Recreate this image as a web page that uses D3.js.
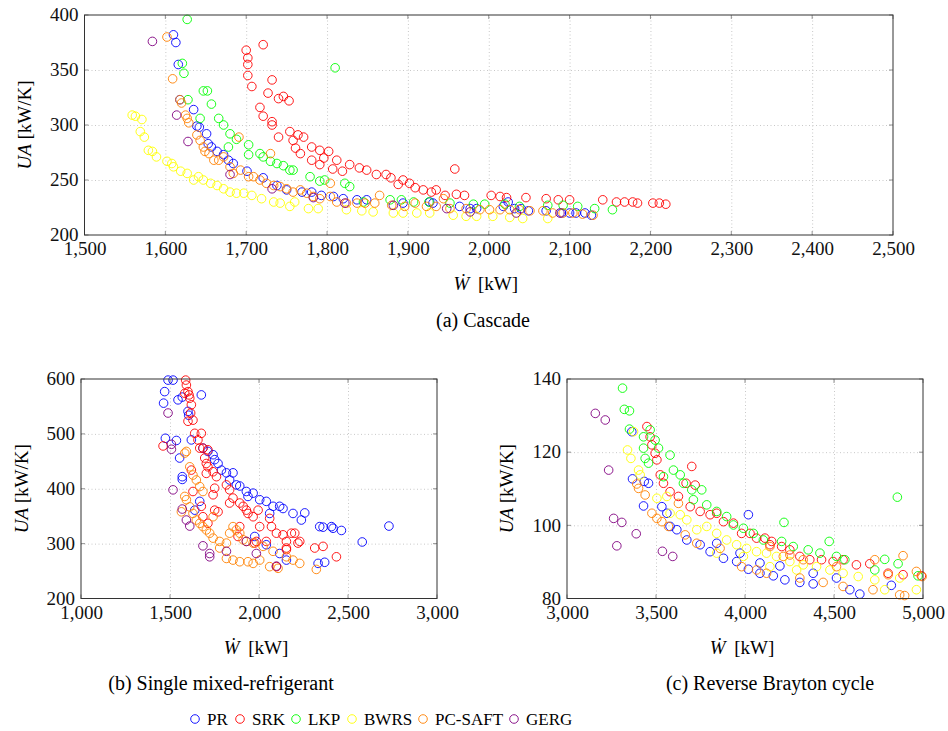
<!DOCTYPE html>
<html>
<head>
<meta charset="utf-8">
<script src="https://cdn.jsdelivr.net/npm/d3@7"></script>
<style>
  body { margin: 0; background: #fff; }
  svg text { font-family: "Liberation Serif", "DejaVu Serif", serif; }
  .tick text { font-size: 19px; fill: #111; }
  .grid line { stroke: #c8c8c8; stroke-dasharray: 1,2.5; }
  .grid .domain { display: none; }
</style>
</head>
<body>
<svg id="chart" width="948" height="731"></svg>
<script>
// Heat exchanger UA vs compressor power for three liquefaction processes
const SERIES = ["PR", "SRK", "LKP", "BWRS", "PC-SAFT", "GERG"];
const COLORS = d3.scaleOrdinal().domain(SERIES)
  .range(["#0000ff", "#ff0000", "#00ff00", "#ffff00", "#ff8000", "#800080"]);

// (a) Cascade : [W kW, UA kW/K]
const cascadePR = [[1610,382],[1613,375],[1616,355],[1618,323],[1635,314],[1639,299],[1642,298],[1651,292],[1653,283],[1657,280],[1664,276],[1672,273],[1678,268],[1684,265],[1701,258],[1721,252],[1738,245],[1750,241],[1769,239],[1781,239],[1793,236],[1808,235],[1820,233],[1837,232],[1849,232],[1894,229],[1927,230],[1931,229],[1964,226],[1977,224],[1985,224],[2018,226],[2024,230],[2032,224],[2040,224],[2049,222],[2071,222],[2090,220],[2100,220],[2108,220],[2119,220],[2127,218]];
const cascadeSRK = [[1700,368],[1702,361],[1702,355],[1702,345],[1707,335],[1721,373],[1732,341],[1727,329],[1717,316],[1721,308],[1732,303],[1732,300],[1740,324],[1746,326],[1753,322],[1740,289],[1754,294],[1758,286],[1764,291],[1771,289],[1761,279],[1767,274],[1781,280],[1791,277],[1796,270],[1802,276],[1812,268],[1781,268],[1791,264],[1807,260],[1819,258],[1828,264],[1840,261],[1849,259],[1861,255],[1873,255],[1879,252],[1888,246],[1894,250],[1902,247],[1909,243],[1919,241],[1929,239],[1935,241],[1946,236],[1958,260],[1960,237],[1970,236],[2003,236],[2014,235],[2022,234],[2046,234],[2071,233],[2086,232],[2100,232],[2141,232],[2158,230],[2168,230],[2178,230],[2184,229],[2203,229],[2211,229],[2219,228]];
const cascadeLKP = [[1627,396],[1621,356],[1623,347],[1628,323],[1647,331],[1652,331],[1657,319],[1643,306],[1666,306],[1672,300],[1680,292],[1678,280],[1688,287],[1703,282],[1703,273],[1717,274],[1721,271],[1730,267],[1738,265],[1746,263],[1754,259],[1758,259],[1779,253],[1791,249],[1797,250],[1822,247],[1828,244],[1810,352],[1845,230],[1878,232],[1892,232],[1907,230],[1926,230],[1952,229],[1981,228],[1995,228],[2020,228],[2038,226],[2073,227],[2092,227],[2110,226],[2131,224],[2153,223]];
const cascadeBWRS = [[1559,309],[1563,308],[1571,305],[1569,294],[1574,289],[1579,277],[1584,276],[1589,271],[1602,267],[1608,265],[1610,262],[1619,258],[1627,256],[1635,250],[1641,253],[1647,250],[1656,247],[1664,245],[1672,242],[1680,239],[1688,238],[1697,238],[1707,236],[1719,233],[1734,230],[1742,229],[1754,226],[1760,230],[1777,224],[1789,224],[1824,223],[1843,222],[1857,221],[1882,220],[1894,220],[1911,220],[1927,220],[1956,218],[1972,217],[1985,217],[2005,217],[2026,216],[2042,215],[2073,215]];
const cascadePCSAFT = [[1602,380],[1609,342],[1618,323],[1620,320],[1625,309],[1627,306],[1629,302],[1639,291],[1643,286],[1647,280],[1649,276],[1654,274],[1660,268],[1666,268],[1672,271],[1680,262],[1684,256],[1691,289],[1693,259],[1703,253],[1709,253],[1717,250],[1725,247],[1730,274],[1734,245],[1742,244],[1750,242],[1758,239],[1767,241],[1775,238],[1783,235],[1791,233],[1804,247],[1804,235],[1812,230],[1824,229],[1837,229],[1847,229],[1859,229],[1865,236],[1880,227],[1896,226],[1909,229],[1923,226],[1935,226],[1944,233],[1952,224],[1972,224],[1989,223],[2001,223],[2014,223],[2026,223],[2038,223],[2051,222],[2067,222],[2079,220],[2092,220],[2104,220],[2116,219],[2129,218]];
const cascadeGERG = [[1584,376],[1614,309],[1628,285],[1680,255],[1732,242],[1783,234],[1822,229],[1882,227],[1948,224],[1977,221],[2034,220],[2088,220]];

// (b) Single mixed-refrigerant
const smrPR = [[1489,598],[1470,577],[1464,556],[1474,492],[1517,598],[1536,488],[1545,562],[1569,567],[1554,456],[1569,422],[1569,417],[1601,541],[1605,534],[1676,571],[1667,377],[1639,361],[1620,489],[1685,474],[1713,468],[1742,462],[1751,453],[1770,446],[1789,434],[1817,429],[1854,429],[1835,416],[1873,407],[1892,405],[1929,395],[1967,392],[2004,380],[2041,377],[2079,368],[2116,368],[2135,364],[2191,355],[2257,356],[2238,343],[2341,331],[2360,330],[2407,331],[2416,328],[2463,324],[1976,313],[2041,298],[2116,282],[2154,270],[2332,264],[2369,266],[1938,386],[2060,355],[2580,303],[2730,332]];
const smrSRK = [[1588,598],[1592,589],[1583,574],[1601,577],[1607,571],[1611,565],[1620,553],[1616,538],[1601,523],[1629,525],[1639,501],[1676,501],[1657,489],[1685,474],[1667,474],[1713,471],[1695,456],[1704,446],[1713,440],[1704,428],[1742,431],[1761,422],[1751,401],[1742,389],[1751,361],[1770,358],[1817,407],[1835,398],[1835,374],[1854,383],[1892,374],[1911,368],[1929,361],[1938,355],[1967,349],[1995,361],[2004,331],[2060,346],[2070,331],[2098,319],[2135,316],[2154,304],[2182,319],[2201,319],[2219,301],[2229,304],[2154,292],[2154,289],[2041,304],[1892,331],[1976,301],[2313,292],[2360,295],[2435,276],[2098,258],[1461,478],[1620,434],[1629,395],[1676,368],[1685,349],[1713,337],[1882,313],[1985,304]];
const smrPCSAFT = [[1583,465],[1592,468],[1611,440],[1629,425],[1648,416],[1667,404],[1685,395],[1583,386],[1592,380],[1611,367],[1629,355],[1648,343],[1667,337],[1685,331],[1704,325],[1723,319],[1742,310],[1779,304],[1817,301],[1854,331],[1873,325],[1892,319],[1911,307],[1929,304],[1967,301],[2023,295],[2079,286],[2154,276],[2191,270],[2229,264],[1779,292],[1817,273],[1854,270],[1892,267],[1938,267],[1967,264],[2004,270],[2060,258],[2107,255],[2322,253],[1742,349],[1835,319],[1564,358]];
const smrGERG = [[1489,538],[1508,472],[1517,398],[1569,363],[1592,343],[1611,332],[1685,296],[1723,282],[1723,276],[1817,286],[1929,304],[1985,282],[2098,259],[1508,481]];

// (c) Reverse Brayton cycle
const rbPR = [[3364,125.6],[3368,112.7],[3434,112.0],[3430,105.3],[3458,111.5],[3533,105.1],[3561,103.3],[3579,99.7],[3617,98.8],[3673,96.0],[3748,94.7],[3804,92.8],[3879,91.0],[3953,90.1],[4019,88.0],[4084,86.9],[4019,102.9],[4159,86.2],[4224,85.1],[4308,84.4],[4383,84.0],[4514,85.6],[4589,82.4],[4645,81.2],[4822,83.6],[4196,88.9],[4383,86.9],[3841,95.1],[3972,92.4],[4084,89.7]];
const rbSRK = [[3449,127.0],[3467,124.2],[3477,122.0],[3495,119.7],[3505,117.9],[3524,113.8],[3542,111.5],[3579,109.2],[3626,107.9],[3669,111.5],[3701,116.1],[3720,111.0],[3692,105.1],[3748,103.8],[3804,102.9],[3841,103.3],[3879,101.0],[3935,100.6],[3981,97.8],[4028,97.8],[4065,96.5],[4112,96.5],[4150,95.6],[4206,94.2],[4252,93.3],[4308,91.5],[4364,90.6],[4430,90.6],[4495,90.1],[4551,90.6],[4626,89.2],[4701,89.5],[4804,86.9],[4888,86.5],[4991,86.2],[4140,94.7]];
const rbLKP = [[3312,137.5],[3322,131.7],[3351,131.3],[3351,126.3],[3430,124.2],[3430,121.1],[3467,126.1],[3495,123.3],[3514,121.1],[3439,118.3],[3458,117.0],[3579,119.2],[3598,115.1],[3542,113.3],[3636,113.8],[3654,111.5],[3701,109.7],[3757,109.7],[3710,107.0],[3785,105.6],[3841,103.8],[3897,102.4],[3935,100.1],[3991,99.2],[4047,97.8],[4103,96.0],[4219,100.8],[4206,95.6],[4271,94.2],[4355,93.3],[4421,92.4],[4473,95.6],[4514,91.5],[4561,90.6],[4729,87.8],[4785,90.7],[4860,89.5],[4856,107.7],[4972,86.2]];
const rbBWRS = [[3374,125.6],[3340,120.6],[3359,118.3],[3402,115.1],[3411,113.8],[3505,107.4],[3561,107.9],[3579,103.3],[3636,102.9],[3673,101.5],[3729,98.8],[3785,99.7],[3841,97.8],[3897,96.0],[3953,94.7],[4009,93.7],[4065,92.8],[4121,92.4],[4177,91.5],[4252,90.1],[4327,89.2],[4402,88.7],[4477,87.8],[4551,86.9],[4636,86.0],[4729,85.1],[4785,82.4],[4869,85.6],[4963,82.4],[3841,92.4],[3991,91.5],[4140,88.7],[4290,87.8]];
const rbPCSAFT = [[3392,111.3],[3402,110.1],[3439,108.3],[3477,103.3],[3505,101.9],[3533,101.0],[3570,99.7],[3626,106.0],[3664,97.4],[3729,95.1],[3860,93.7],[3981,88.7],[4065,87.8],[4121,86.9],[4215,91.5],[4252,91.9],[4308,85.6],[4439,84.4],[4551,83.3],[4719,82.4],[4729,90.6],[4804,86.5],[4888,91.7],[4869,81.0],[4897,80.8],[4963,87.4],[4995,86.0],[4140,94.2],[4327,90.6],[4514,88.7]];
const rbGERG = [[3159,130.6],[3215,128.8],[3234,115.1],[3262,101.9],[3308,100.8],[3280,94.4],[3389,97.7],[3536,92.9],[3594,91.5]];

const cascadeXTicks = [1500, 1600, 1700, 1800, 1900, 2000, 2100, 2200, 2300, 2400, 2500];
const cascadeYTicks = [200, 250, 300, 350, 400];
const smrXTicks = [1000, 1500, 2000, 2500, 3000];
const smrYTicks = [200, 300, 400, 500, 600];
const rbXTicks = [3000, 3500, 4000, 4500, 5000];
const rbYTicks = [80, 100, 120, 140];

const svg = d3.select("#chart");

function panel(box, xTicks, yTicks, seriesData, caption) {
  const x = d3.scaleLinear().domain(d3.extent(xTicks)).range([box.left, box.right]);
  const y = d3.scaleLinear().domain(d3.extent(yTicks)).range([box.bottom, box.top]);
  const g = svg.append("g");
  const h = box.bottom - box.top, w = box.right - box.left;

  // dotted grid
  g.append("g").attr("class", "grid")
    .attr("transform", `translate(0,${box.bottom})`)
    .call(d3.axisBottom(x).tickValues(xTicks.slice(1, -1)).tickSize(-h).tickFormat(""));
  g.append("g").attr("class", "grid")
    .attr("transform", `translate(${box.left},0)`)
    .call(d3.axisLeft(y).tickValues(yTicks.slice(1, -1)).tickSize(-w).tickFormat(""));

  // inward tick marks on all sides
  const tk = g.append("g").attr("stroke", "#777").attr("stroke-width", 0.8);
  xTicks.forEach((v) => {
    tk.append("line").attr("x1", x(v)).attr("x2", x(v)).attr("y1", box.bottom).attr("y2", box.bottom - 4);
    tk.append("line").attr("x1", x(v)).attr("x2", x(v)).attr("y1", box.top).attr("y2", box.top + 4);
  });
  yTicks.forEach((v) => {
    tk.append("line").attr("y1", y(v)).attr("y2", y(v)).attr("x1", box.left).attr("x2", box.left + 4);
    tk.append("line").attr("y1", y(v)).attr("y2", y(v)).attr("x1", box.right).attr("x2", box.right - 4);
  });

  // tick labels
  const gx = g.append("g").attr("transform", `translate(0,${box.bottom})`)
    .call(d3.axisBottom(x).tickValues(xTicks).tickSize(0).tickPadding(7).tickFormat(d3.format(",")));
  gx.select(".domain").remove();
  gx.selectAll("text").attr("dy", "0.71em");
  const gy = g.append("g").attr("transform", `translate(${box.left},0)`)
    .call(d3.axisLeft(y).tickValues(yTicks).tickSize(0).tickPadding(6).tickFormat(d3.format(",")));
  gy.select(".domain").remove();
  gy.selectAll("text").attr("dy", "0.3em");

  // markers
  seriesData.forEach(([key, pts]) => {
    g.append("g").selectAll("circle").data(pts).join("circle")
      .attr("cx", (d) => x(d[0])).attr("cy", (d) => y(d[1])).attr("r", 4.3)
      .attr("fill", "none").attr("stroke", COLORS(key)).attr("stroke-width", 0.9);
  });

  // frame
  g.append("rect").attr("x", box.left).attr("y", box.top).attr("width", w).attr("height", h)
    .attr("fill", "none").attr("stroke", "#333").attr("stroke-width", 1);

  // axis titles
  const xl = g.append("text").attr("x", (box.left + box.right) / 2 - 3).attr("y", box.xLabelY)
    .attr("text-anchor", "middle").attr("font-size", 19);
  xl.append("tspan").attr("font-style", "italic").text("Ẇ");
  xl.append("tspan").text(" [kW]").attr("dx", 4);
  const yl = g.append("text")
    .attr("transform", `translate(${box.yLabelX},${(box.top + box.bottom) / 2}) rotate(-90)`)
    .attr("text-anchor", "middle").attr("font-size", 19);
  yl.append("tspan").attr("font-style", "italic").text("UA");
  yl.append("tspan").text(" [kW/K]");

  svg.append("text").attr("x", caption.x).attr("y", caption.y).attr("text-anchor", "middle")
    .attr("font-size", 20).text(caption.text);
}

panel({ left: 84.5, right: 893, top: 15, bottom: 235, xLabelY: 290, yLabelX: 31 },
  cascadeXTicks, cascadeYTicks,
  [["PR", cascadePR], ["SRK", cascadeSRK], ["LKP", cascadeLKP], ["BWRS", cascadeBWRS], ["PC-SAFT", cascadePCSAFT], ["GERG", cascadeGERG]],
  { x: 483, y: 327, text: "(a) Cascade" });

panel({ left: 81, right: 437, top: 379, bottom: 598.5, xLabelY: 654, yLabelX: 28 },
  smrXTicks, smrYTicks,
  [["PR", smrPR], ["SRK", smrSRK], ["PC-SAFT", smrPCSAFT], ["GERG", smrGERG]],
  { x: 221, y: 690, text: "(b) Single mixed-refrigerant" });

panel({ left: 567, right: 923, top: 379, bottom: 598.5, xLabelY: 654, yLabelX: 513 },
  rbXTicks, rbYTicks,
  [["PR", rbPR], ["SRK", rbSRK], ["LKP", rbLKP], ["BWRS", rbBWRS], ["PC-SAFT", rbPCSAFT], ["GERG", rbGERG]],
  { x: 770, y: 690, text: "(c) Reverse Brayton cycle" });

// legend
const legendX = [195, 240, 296, 352, 423, 514];
const lg = svg.append("g");
SERIES.forEach((key, i) => {
  lg.append("circle").attr("cx", legendX[i]).attr("cy", 719).attr("r", 4.3)
    .attr("fill", "none").attr("stroke", COLORS(key)).attr("stroke-width", 0.9);
  lg.append("text").attr("x", legendX[i] + 12).attr("y", 725).attr("font-size", 17).text(key);
});
</script>
</body>
</html>
